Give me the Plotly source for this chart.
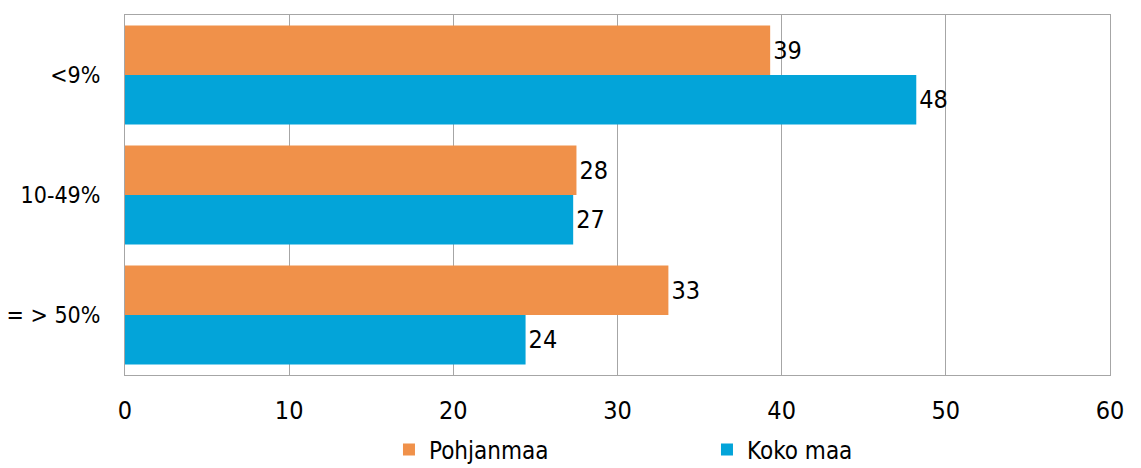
import plotly.graph_objects as go

categories = ["<9%", "10-49%", "= > 50%"]
pohjanmaa = [39.3, 27.5, 33.1]
koko_maa = [48.2, 27.3, 24.4]
pohjanmaa_labels = ["39", "28", "33"]
koko_maa_labels = ["48", "27", "24"]
x_ticks = [0, 10, 20, 30, 40, 50, 60]

FONT = "DejaVu Sans Condensed, DejaVu Sans, sans-serif"
ORANGE = "#F0914A"
BLUE = "#03A4D9"
GRID = "#A6A6A6"

fig = go.Figure()
fig.add_trace(go.Bar(
    y=categories, x=pohjanmaa, name="Pohjanmaa", orientation="h",
    marker=dict(color=ORANGE, line=dict(width=0)),
    text=pohjanmaa_labels, textposition="outside", cliponaxis=False,
    textfont=dict(family=FONT, size=25, color="#000000"),
))
fig.add_trace(go.Bar(
    y=categories, x=koko_maa, name="Koko maa", orientation="h",
    marker=dict(color=BLUE, line=dict(width=0)),
    text=koko_maa_labels, textposition="outside", cliponaxis=False,
    textfont=dict(family=FONT, size=25, color="#000000"),
))

# page body has an 8px margin, so the figure is sized/offset to compensate
fig.update_layout(
    width=1133, height=460,
    margin=dict(l=117, r=31, t=7, b=93, autoexpand=False),
    barmode="group", bargap=0.175, bargroupgap=0,
    plot_bgcolor="white", paper_bgcolor="white",
    font=dict(family=FONT, size=24, color="#000000"),
    showlegend=True,
    legend=dict(
        orientation="h", x=0.268, xanchor="left", y=-0.208, yanchor="middle",
        font=dict(family=FONT, size=24, color="#000000"),
        entrywidth=273, entrywidthmode="pixels",
        traceorder="normal",
    ),
)
fig.update_xaxes(
    range=[0, 60], tickvals=x_ticks, ticktext=[str(v) for v in x_ticks],
    showgrid=True, gridcolor=GRID, gridwidth=1,
    showline=True, linecolor=GRID, linewidth=1, mirror=True,
    ticks="", ticklabelstandoff=13, automargin=False,
    tickfont=dict(family=FONT, size=25, color="#000000"),
    zeroline=False, fixedrange=True,
)
fig.update_yaxes(
    autorange="reversed",
    showgrid=False,
    showline=True, linecolor=GRID, linewidth=1, mirror=True,
    ticks="", ticklabelstandoff=19, automargin=False,
    tickfont=dict(family=FONT, size=23, color="#000000"),
    fixedrange=True,
)

fig.write_html("out.html")
